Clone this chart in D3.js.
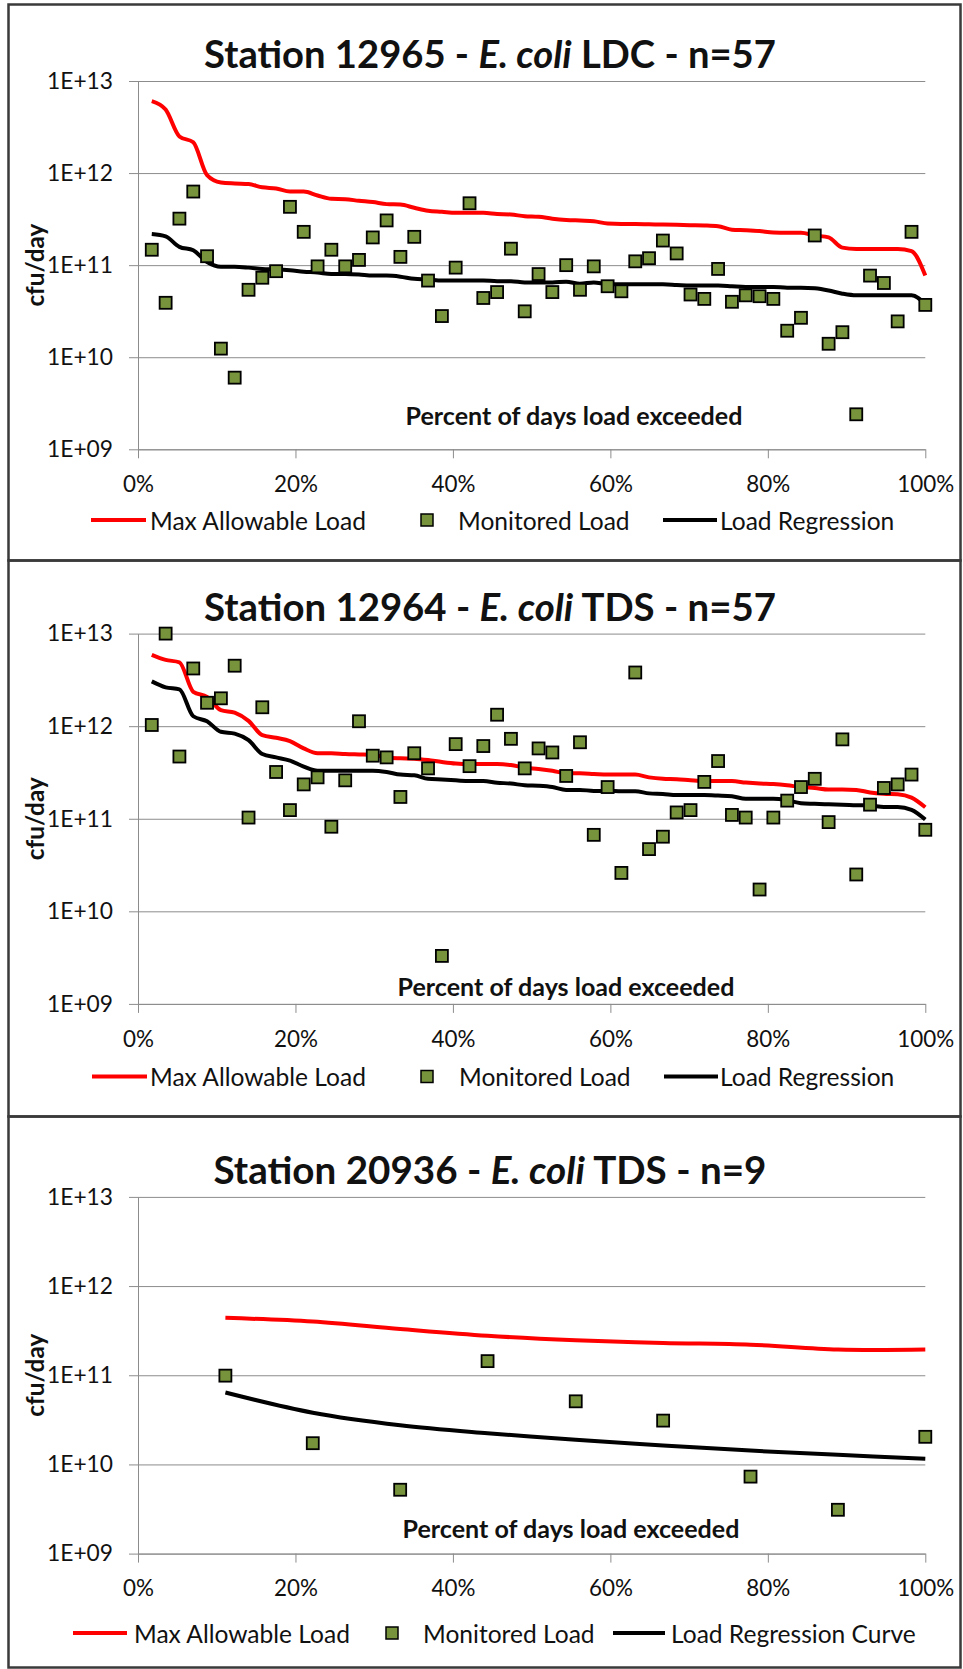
<!DOCTYPE html>
<html>
<head>
<meta charset="utf-8">
<script src="https://cdn.jsdelivr.net/npm/d3@7"></script>
<style>
  body { margin: 0; background: #fff; }
  text { font-family: Lato, "Open Sans", sans-serif; fill: #111; }
</style>
</head>
<body>
<svg id="canvas"></svg>
<script>
// percent of days load exceeded (rank / n)
const exceed57 = [1.75, 3.51, 5.26, 7.02, 8.77, 10.53, 12.28, 14.04, 15.79, 17.54, 19.30, 21.05, 22.81, 24.56, 26.32,
  28.07, 29.82, 31.58, 33.33, 35.09, 36.84, 38.60, 40.35, 42.11, 43.86, 45.61, 47.37, 49.12, 50.88, 52.63,
  54.39, 56.14, 57.89, 59.65, 61.40, 63.16, 64.91, 66.67, 68.42, 70.18, 71.93, 73.68, 75.44, 77.19, 78.95,
  80.70, 82.46, 84.21, 85.96, 87.72, 89.47, 91.23, 92.98, 94.74, 96.49, 98.25, 100];
const exceed9 = [11.1, 22.2, 33.3, 44.4, 55.6, 66.7, 77.8, 88.9, 100];

// Station 12965 - LDC
const monitored12965 = [1.47e11, 3.9e10, 3.2e11, 6.3e11, 1.25e11, 1.24e10, 6.0e9, 5.4e10, 7.3e10, 8.6e10,
  4.3e11, 2.3e11, 9.7e10, 1.47e11, 9.7e10, 1.14e11, 2.0e11, 3.06e11, 1.23e11, 2.03e11,
  6.8e10, 2.8e10, 9.4e10, 4.7e11, 4.4e10, 5.1e10, 1.51e11, 3.15e10, 8.0e10, 5.1e10,
  1.0e11, 5.4e10, 9.7e10, 5.9e10, 5.2e10, 1.1e11, 1.19e11, 1.85e11, 1.34e11, 4.8e10,
  4.3e10, 9.1e10, 4.0e10, 4.7e10, 4.6e10, 4.3e10, 1.94e10, 2.68e10, 2.1e11, 1.4e10,
  1.87e10, 2.4e9, 7.7e10, 6.4e10, 2.45e10, 2.3e11, 3.7e10];
const maxLoad12965 = [6.05e12, 4.9e12, 2.5e12, 2.16e12, 9.5e11, 7.9e11, 7.7e11, 7.6e11, 7.0e11, 6.8e11,
  6.3e11, 6.3e11, 5.7e11, 5.25e11, 5.2e11, 5.0e11, 4.85e11, 4.6e11, 4.55e11, 4.2e11,
  3.9e11, 3.8e11, 3.7e11, 3.7e11, 3.7e11, 3.6e11, 3.55e11, 3.4e11, 3.35e11, 3.2e11,
  3.1e11, 3.05e11, 3.0e11, 2.83e11, 2.8e11, 2.8e11, 2.78e11, 2.76e11, 2.74e11, 2.72e11,
  2.7e11, 2.65e11, 2.43e11, 2.4e11, 2.35e11, 2.26e11, 2.25e11, 2.25e11, 2.1e11, 2.0e11,
  1.55e11, 1.5e11, 1.5e11, 1.5e11, 1.5e11, 1.42e11, 7.7e10];
const regression12965 = [2.18e11, 2.05e11, 1.58e11, 1.45e11, 1.08e11, 9.6e10, 9.6e10, 9.4e10, 9.1e10, 9.0e10,
  8.8e10, 8.5e10, 8.3e10, 8.0e10, 8.0e10, 7.9e10, 7.7e10, 7.7e10, 7.5e10, 7.1e10,
  7.0e10, 6.8e10, 6.8e10, 6.8e10, 6.8e10, 6.7e10, 6.7e10, 6.5e10, 6.5e10, 6.5e10,
  6.6e10, 6.3e10, 6.5e10, 6.2e10, 6.2e10, 6.2e10, 6.2e10, 6.2e10, 6.1e10, 6.0e10,
  6.0e10, 6.0e10, 5.9e10, 5.8e10, 5.8e10, 5.8e10, 5.7e10, 5.7e10, 5.6e10, 5.3e10,
  4.9e10, 4.7e10, 4.7e10, 4.7e10, 4.7e10, 4.7e10, 3.75e10];

// Station 12964 - TDS
const monitored12964 = [1.03e12, 1.0e13, 4.7e11, 4.2e12, 1.79e12, 2.0e12, 4.5e12, 1.03e11, 1.6e12, 3.2e11,
  1.24e11, 2.35e11, 2.8e11, 8.2e10, 2.6e11, 1.13e12, 4.8e11, 4.6e11, 1.72e11, 5.1e11,
  3.5e11, 3.3e9, 6.4e11, 3.7e11, 6.1e11, 1.33e12, 7.3e11, 3.5e11, 5.75e11, 5.2e11,
  2.9e11, 6.7e11, 6.7e10, 2.2e11, 2.6e10, 3.8e12, 4.7e10, 6.4e10, 1.17e11, 1.24e11,
  2.5e11, 4.2e11, 1.1e11, 1.03e11, 1.72e10, 1.03e11, 1.57e11, 2.2e11, 2.7e11, 9.2e10,
  7.2e11, 2.5e10, 1.42e11, 2.15e11, 2.35e11, 3.0e11, 7.6e10];
const maxLoad12964 = [5.9e12, 5.2e12, 4.9e12, 2.35e12, 2.07e12, 1.49e12, 1.4e12, 1.14e12, 8.0e11, 7.5e11,
  6.9e11, 5.75e11, 5.1e11, 5.1e11, 5.0e11, 4.95e11, 4.9e11, 4.6e11, 4.5e11, 4.45e11,
  4.3e11, 4.1e11, 3.95e11, 3.9e11, 3.9e11, 3.9e11, 3.8e11, 3.57e11, 3.45e11, 3.3e11,
  3.1e11, 3.1e11, 3.05e11, 3.0e11, 3.0e11, 3.0e11, 2.8e11, 2.7e11, 2.67e11, 2.6e11,
  2.55e11, 2.55e11, 2.55e11, 2.46e11, 2.4e11, 2.37e11, 2.3e11, 2.2e11, 2.15e11, 2.07e11,
  2.07e11, 2.05e11, 1.92e11, 1.86e11, 1.84e11, 1.69e11, 1.33e11];
const regression12964 = [3.05e12, 2.63e12, 2.5e12, 1.28e12, 1.13e12, 8.7e11, 8.3e11, 7.05e11, 5.0e11, 4.6e11,
  4.25e11, 3.66e11, 3.3e11, 3.3e11, 3.3e11, 3.3e11, 3.3e11, 3.2e11, 3.0e11, 2.95e11,
  2.7e11, 2.65e11, 2.6e11, 2.55e11, 2.55e11, 2.45e11, 2.4e11, 2.3e11, 2.27e11, 2.2e11,
  2.05e11, 2.05e11, 2.0e11, 2.0e11, 1.98e11, 1.98e11, 1.88e11, 1.85e11, 1.8e11, 1.8e11,
  1.8e11, 1.78e11, 1.75e11, 1.64e11, 1.64e11, 1.64e11, 1.58e11, 1.47e11, 1.45e11, 1.43e11,
  1.42e11, 1.4e11, 1.39e11, 1.34e11, 1.34e11, 1.25e11, 9.8e10];

// Station 20936 - TDS
const monitored20936 = [9.9e10, 1.73e10, 5.2e9, 1.44e11, 5.1e10, 3.1e10, 7.3e9, 3.1e9, 2.04e10];
const maxLoad20936 = [4.4e11, 4.0e11, 3.3e11, 2.77e11, 2.47e11, 2.3e11, 2.2e11, 1.94e11, 1.94e11];
const regression20936 = [6.4e10, 3.8e10, 2.75e10, 2.24e10, 1.89e10, 1.63e10, 1.43e10, 1.28e10, 1.16e10];

const yTicks = [1e9, 1e10, 1e11, 1e12, 1e13];
const xTicks = [0, 20, 40, 60, 80, 100];
const legendNames = ["Max Allowable Load", "Monitored Load"];

const panels = [
  {station: "12965", kind: "LDC", n: 57, x: exceed57, monitored: monitored12965, maxLoad: maxLoad12965,
   regression: regression12965, regName: "Load Regression",
   top: 4, bottom: 560, y13: 81, y09: 449.3, pctY: 415, pctX: 574, legendY: 520,
   legendX: [91, 146, 150, 427, 458, 663, 717, 720]},
  {station: "12964", kind: "TDS", n: 57, x: exceed57, monitored: monitored12964, maxLoad: maxLoad12964,
   regression: regression12964, regName: "Load Regression",
   top: 560, bottom: 1116, y13: 633.6, y09: 1003.9, pctY: 986, pctX: 566, legendY: 1076.5,
   legendX: [92, 147, 150, 427, 459, 664, 718, 720]},
  {station: "20936", kind: "TDS", n: 9, x: exceed9, monitored: monitored20936, maxLoad: maxLoad20936,
   regression: regression20936, regName: "Load Regression Curve",
   top: 1116, bottom: 1667, y13: 1196.9, y09: 1553.6, pctY: 1528, pctX: 571, legendY: 1633,
   legendX: [73, 127, 134, 392, 423, 613, 665, 671]}
];

const width = 963;
const height = 1669;
const plotLeft = 138;
const plotRight = 925.3;
const markerFill = "#77933c";
const gridColor = "#8c8c8c";

const svg = d3.select("#canvas").attr("width", width).attr("height", height).attr("viewBox", `0 0 ${width} ${height}`);

function fitSize(str, target, weight) {
  const t = svg.append("text").style("font-size", "20px").style("font-weight", weight || "normal").text(str);
  const w = t.node().getComputedTextLength();
  t.remove();
  return 20 * target / w;
}

const tickFont = fitSize("1E+13", 66);
const xTickFont = fitSize("20%", 44);
const legendFont = fitSize("Max Allowable Load", 216);
const pctFont = fitSize("Percent of days load exceeded", 337, "bold");
const cfuFont = fitSize("cfu/day", 83, "bold");

const xScale = d3.scaleLinear().domain([0, 100]).range([plotLeft, plotRight]);
const expFormat = d => "1E+" + String(Math.round(Math.log10(d))).padStart(2, "0");

panels.forEach(p => {
  const g = svg.append("g").classed("panel", true);
  const yScale = d3.scaleLog().domain([1e9, 1e13]).range([p.y09, p.y13]);
  const plotW = plotRight - plotLeft;

  // frame
  g.append("rect")
    .attr("x", 8.5).attr("y", p.top + 0.5)
    .attr("width", 952).attr("height", p.bottom - p.top)
    .attr("fill", "none").attr("stroke", "#3a3a3a").attr("stroke-width", 2.5);

  // title
  const title = g.append("text")
    .attr("x", 490).attr("y", p.y13 - 28)
    .attr("text-anchor", "middle").attr("dominant-baseline", "central")
    .style("font-weight", "bold").style("font-size", "30px");
  title.append("tspan").text(`Station ${p.station} - `);
  title.append("tspan").style("font-style", "italic").text("E. coli");
  title.append("tspan").text(` ${p.kind} - n=${p.n}`);
  const tw = title.node().getComputedTextLength();
  const target = p.n === 9 ? 553 : 572;
  title.style("font-size", (30 * target / tw) + "px");

  // y axis with gridlines
  const yAxis = d3.axisLeft(yScale).tickValues(yTicks).tickFormat(expFormat)
    .tickSizeInner(9).tickSizeOuter(0).tickPadding(16);
  g.append("g").attr("transform", `translate(${plotLeft},0)`)
    .call(yAxis)
    .call(a => a.select(".domain").attr("stroke", gridColor))
    .call(a => a.selectAll(".tick line").attr("stroke", gridColor))
    .call(a => a.selectAll(".tick line").clone().attr("x1", 0).attr("x2", plotW))
    .call(a => a.selectAll(".tick text").style("font-size", tickFont + "px").style("font-family", "Lato, sans-serif").attr("fill", "#1a1a1a"));

  // x axis
  const xAxis = d3.axisBottom(xScale).tickValues(xTicks).tickFormat(d => d + "%")
    .tickSizeInner(9).tickSizeOuter(0);
  g.append("g").attr("transform", `translate(0,${p.y09})`)
    .call(xAxis)
    .call(a => a.select(".domain").attr("stroke", gridColor))
    .call(a => a.selectAll(".tick line").attr("stroke", gridColor))
    .call(a => a.selectAll(".tick text").attr("y", 35).attr("dy", "0.35em")
      .style("font-size", xTickFont + "px").style("font-family", "Lato, sans-serif").attr("fill", "#1a1a1a"));

  // axis titles
  g.append("text")
    .attr("x", p.pctX).attr("y", p.pctY)
    .attr("text-anchor", "middle").attr("dominant-baseline", "central")
    .style("font-weight", "bold").style("font-size", pctFont + "px")
    .text("Percent of days load exceeded");
  g.append("text")
    .attr("transform", `translate(34,${(p.y13 + p.y09) / 2}) rotate(-90)`)
    .attr("text-anchor", "middle").attr("dominant-baseline", "central")
    .style("font-weight", "bold").style("font-size", cfuFont + "px")
    .text("cfu/day");

  const pts = p.x.map((x, i) => ({x, monitored: p.monitored[i], maxLoad: p.maxLoad[i], regression: p.regression[i]}));
  const curve = p.n === 9 ? d3.curveCatmullRom.alpha(0.5) : d3.curveMonotoneX;

  g.append("path")
    .datum(pts)
    .attr("fill", "none").attr("stroke", "#ff0000").attr("stroke-width", 4)
    .attr("d", d3.line().x(d => xScale(d.x)).y(d => yScale(d.maxLoad)).curve(curve));

  g.append("path")
    .datum(pts)
    .attr("fill", "none").attr("stroke", "#000").attr("stroke-width", 4)
    .attr("d", d3.line().x(d => xScale(d.x)).y(d => yScale(d.regression)).curve(curve));

  const ms = 12;
  g.selectAll("rect.pt")
    .data(pts)
    .join("rect")
    .classed("pt", true)
    .attr("x", d => xScale(d.x) - ms / 2)
    .attr("y", d => yScale(d.monitored) - ms / 2)
    .attr("width", ms).attr("height", ms)
    .attr("fill", markerFill).attr("stroke", "#000").attr("stroke-width", 1.8);

  // legend
  const L = p.legendX;
  const lg = g.append("g").attr("transform", `translate(0,${p.legendY})`);
  lg.append("line").attr("x1", L[0]).attr("x2", L[1]).attr("stroke", "#ff0000").attr("stroke-width", 4);
  lg.append("text").attr("x", L[2]).attr("dominant-baseline", "central")
    .style("font-size", legendFont + "px").text(legendNames[0]);
  lg.append("rect").attr("x", L[3] - 6).attr("y", -6).attr("width", 12).attr("height", 12)
    .attr("fill", markerFill).attr("stroke", "#000").attr("stroke-width", 1.5);
  lg.append("text").attr("x", L[4]).attr("dominant-baseline", "central")
    .style("font-size", legendFont + "px").text(legendNames[1]);
  lg.append("line").attr("x1", L[5]).attr("x2", L[6]).attr("stroke", "#000").attr("stroke-width", 4);
  lg.append("text").attr("x", L[7]).attr("dominant-baseline", "central")
    .style("font-size", legendFont + "px").text(p.regName);
});
</script>
</body>
</html>
